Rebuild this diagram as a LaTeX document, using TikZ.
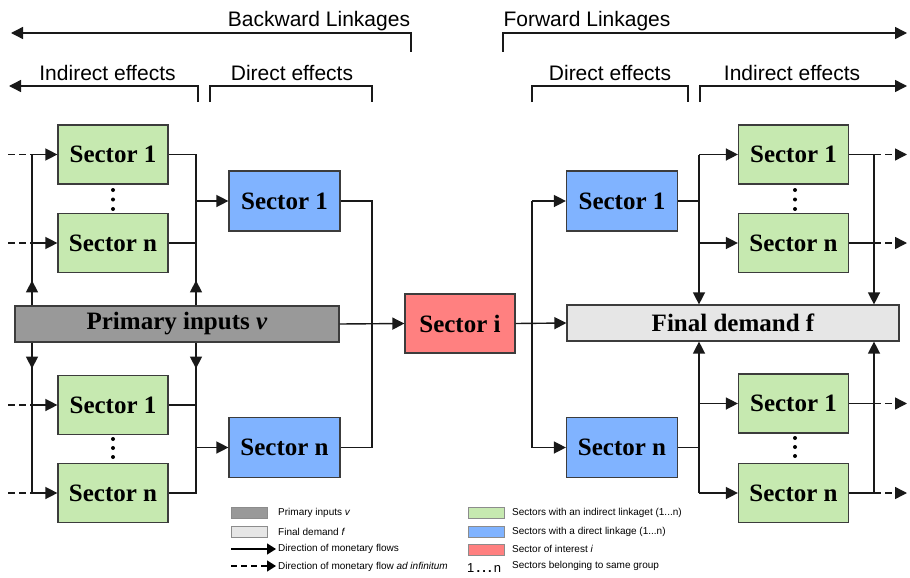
\documentclass[tikz,border=0pt]{standalone}
\usepackage{fontspec}
\setmainfont{Liberation Serif}
\newfontfamily\sansf{Liberation Sans}
\usetikzlibrary{arrows.meta,calc}
\definecolor{cgreen}{RGB}{198,233,176}
\definecolor{cblue}{RGB}{128,179,255}
\definecolor{cred}{RGB}{255,128,128}
\definecolor{cdark}{RGB}{153,153,153}
\definecolor{clight}{RGB}{230,230,230}
\definecolor{cborder}{RGB}{60,60,60}
\tikzset{
  sbox/.style={draw=cborder, line width=1.2pt, minimum width=110pt, minimum height=59pt, inner sep=0pt,
     font=\bfseries\fontsize{25}{25}\selectfont},
  gbox/.style={sbox, fill=cgreen},
  bbox/.style={sbox, fill=cblue, minimum width=111pt, minimum height=60pt},
  rbox/.style={sbox, fill=cred},
  wbox/.style={sbox, minimum height=36pt},
  conn/.style={line width=1.4pt, draw=black!90},
  arr/.style={conn, -{Triangle[length=12pt,width=12pt]}},
  dsh/.style={conn, dash pattern=on 7pt off 4pt},
  darr/.style={arr, dash pattern=on 7pt off 4pt},
  toplab/.style={font=\sansf\fontsize{21}{21}\selectfont, anchor=base, inner sep=0pt},
  leglab/.style={font=\sansf\fontsize{10}{10}\selectfont, anchor=west, inner sep=0pt},
  swatch/.style={draw=black!45, line width=0.6pt},
  legarr/.style={line width=1.4pt, -{Triangle[length=9pt,width=11pt]}},
  dotf/.style={fill=black},
}
\begin{document}
\begin{tikzpicture}[x=1pt,y=-1pt]
\useasboundingbox (0,0) rectangle (910,578);

% column coordinates
\coordinate (xd0) at (8,0);
\coordinate (xl) at (32,0);
\coordinate (xl2) at (196,0);
\coordinate (xc1) at (372,0);
\coordinate (xc2) at (532,0);
\coordinate (xr1) at (699,0);
\coordinate (xr2) at (874,0);
\coordinate (xd1) at (907,0);

% top labels and brackets
\node[toplab] (blab) at (319,27) {Backward Linkages};
\node[toplab] (flab) at (587,27) {Forward Linkages};
\node[toplab] (ilabL) at (107.5,81) {Indirect effects};
\node[toplab] (dlabL) at (292,81) {Direct effects};
\node[toplab] (dlabR) at (610,81) {Direct effects};
\node[toplab] (ilabR) at (792,81) {Indirect effects};

\coordinate (b0) at (411,52); \coordinate (b1) at (411,33); \coordinate (b2) at (11,33);
\draw[arr] (b0) -- (b1) -- (b2);
\coordinate (f0) at (503,52); \coordinate (f1) at (503,33); \coordinate (f2) at (907,33);
\draw[arr] (f0) -- (f1) -- (f2);
\coordinate (il0) at (198,102); \coordinate (il1) at (198,86); \coordinate (il2) at (9,86);
\draw[arr] (il0) -- (il1) -- (il2);
\coordinate (dl0) at (210,102); \coordinate (dl1) at (210,86); \coordinate (dl2) at (372,86); \coordinate (dl3) at (372,102);
\draw[conn] (dl0) -- (dl1) -- (dl2) -- (dl3);
\coordinate (dr0) at (532,102); \coordinate (dr1) at (532,86); \coordinate (dr2) at (688,86); \coordinate (dr3) at (688,102);
\draw[conn] (dr0) -- (dr1) -- (dr2) -- (dr3);
\coordinate (ir0) at (700,102); \coordinate (ir1) at (700,86); \coordinate (ir2) at (907,86);
\draw[arr] (ir0) -- (ir1) -- (ir2);

% nodes
\node[gbox] (gl1) at (113,154.5) {Sector 1};
\node[gbox] (gln) at (113,243) {Sector n};
\node[gbox] (gl1b) at (113,405) {Sector 1};
\node[gbox] (glnb) at (113,493) {Sector n};
\node[bbox] (bl1) at (284.5,201) {Sector 1};
\node[bbox] (bln) at (284.5,447.5) {Sector n};
\node[wbox, fill=cdark, minimum width=324pt] (pi) at (177,324) {Primary inputs \textit{v}};
\node[rbox] (si) at (460,323.5) {Sector i};
\node[wbox, fill=clight, minimum width=332pt] (fd) at (733,323) {Final demand f};
\node[bbox] (br1) at (622,201) {Sector 1};
\node[bbox] (brn) at (622,447.5) {Sector n};
\node[gbox] (gr1) at (793.5,154.5) {Sector 1};
\node[gbox] (grn) at (793.5,243) {Sector n};
\node[gbox] (gr1b) at (793.5,403.5) {Sector 1};
\node[gbox] (grnb) at (793.5,493) {Sector n};

% dots
\foreach \yy in {190,199.5,209} {\fill (113,\yy) circle (2pt); \fill (795,\yy) circle (2pt);}
\foreach \yy in {439,448,457} {\fill (113,\yy) circle (2pt); \fill (795,\yy-1) circle (2pt);}

% left top block
\draw[dsh] (gl1.west -| xd0) -- (gl1.west -| xl);
\draw[dsh] (gln.west -| xd0) -- (gln.west -| xl);
\draw[arr] (gl1.west -| xl) -- (gl1.west);
\draw[arr] (gln.west -| xl) -- (gln.west);
\draw[conn] (pi.north -| xl) -- (gl1.west -| xl);
\draw[arr] (pi.north -| xl) -- ++(0,-25);
\draw[conn] (gl1.east) -- (gl1.east -| xl2) -- (pi.north -| xl2);
\draw[conn] (gln.east) -- (gln.east -| xl2);
\draw[arr] (pi.north -| xl2) -- ++(0,-25);
\draw[arr] (bl1.west -| xl2) -- (bl1.west);

% left bottom block
\draw[dsh] (gl1b.west -| xd0) -- (gl1b.west -| xl);
\draw[dsh] (glnb.west -| xd0) -- (glnb.west -| xl);
\draw[arr] (gl1b.west -| xl) -- (gl1b.west);
\draw[arr] (glnb.west -| xl) -- (glnb.west);
\draw[conn] (pi.south -| xl) -- (glnb.west -| xl);
\draw[arr] (pi.south -| xl) -- ++(0,26);
\draw[conn] (gl1b.east) -- (gl1b.east -| xl2);
\draw[conn] (glnb.east) -- (glnb.east -| xl2) -- (pi.south -| xl2);
\draw[arr] (pi.south -| xl2) -- ++(0,26);
\draw[arr] (bln.west -| xl2) -- (bln.west);

% centre
\draw[conn] (bl1.east) -- (bl1.east -| xc1) -- (bln.east -| xc1) -- (bln.east);
\draw[arr] (pi.east) -- (si.west);
\draw[arr] (si.east) -- (fd.west);
\draw[conn] (br1.west -| xc2) -- (brn.west -| xc2);
\draw[arr] (br1.west -| xc2) -- (br1.west);
\draw[arr] (brn.west -| xc2) -- (brn.west);

% right top block
\draw[conn] (br1.east) -- (br1.east -| xr1);
\draw[arr] (gr1.west -| xr1) -- (fd.north -| xr1);
\draw[arr] (gr1.west -| xr1) -- (gr1.west);
\draw[arr] (grn.west -| xr1) -- (grn.west);
\draw[conn] (gr1.east) -- (gr1.east -| xr2);
\draw[conn] (grn.east) -- (grn.east -| xr2);
\draw[arr] (gr1.east -| xr2) -- (fd.north -| xr2);
\draw[darr] (gr1.east -| xr2) -- (gr1.east -| xd1);
\draw[darr] (grn.east -| xr2) -- (grn.east -| xd1);

% right bottom block
\draw[conn] (brn.east) -- (brn.east -| xr1);
\draw[arr] (grnb.west -| xr1) -- (fd.south -| xr1);
\draw[arr] (gr1b.west -| xr1) -- (gr1b.west);
\draw[arr] (grnb.west -| xr1) -- (grnb.west);
\draw[conn] (gr1b.east) -- (gr1b.east -| xr2);
\draw[conn] (grnb.east) -- (grnb.east -| xr2);
\draw[arr] (grnb.east -| xr2) -- (fd.south -| xr2);
\draw[darr] (gr1b.east -| xr2) -- (gr1b.east -| xd1);
\draw[darr] (grnb.east -| xr2) -- (grnb.east -| xd1);

% legend
\draw[swatch, fill=cdark] (231,507) rectangle (267,518);
\draw[swatch, fill=clight] (231,526) rectangle (267,537);
\coordinate (la0) at (231,549); \coordinate (la1) at (276,549);
\draw[legarr] (la0) -- (la1);
\coordinate (lb0) at (231,566); \coordinate (lb1) at (276,566);
\draw[legarr, dash pattern=on 6pt off 4pt] (lb0) -- (lb1);
\node[leglab] (t1) at (278,512.5) {Primary inputs \textit{v}};
\node[leglab] (t2) at (278,531.5) {Final demand \textit{f}};
\node[leglab] (t3) at (278,549) {Direction of monetary flows};
\node[leglab] (t4) at (278,566.5) {Direction of monetary flow \textit{ad infinitum}};

\draw[swatch, fill=cgreen] (468,507) rectangle (504,518);
\draw[swatch, fill=cblue] (468,526) rectangle (504,537);
\draw[swatch, fill=cred] (468,544) rectangle (504,555);
\node[leglab, font=\sansf\fontsize{13}{13}\selectfont] (t5) at (467,568) {1\,\textbf{.\,.\,.}\,n};
\node[leglab] (t6) at (512,512.5) {Sectors with an indirect linkaget (1...n)};
\node[leglab] (t7) at (512,531.5) {Sectors with a direct linkage (1...n)};
\node[leglab] (t8) at (512,549) {Sector of interest \textit{i}};
\node[leglab] (t9) at (512,566) {Sectors belonging to same group};
\end{tikzpicture}
\end{document}
